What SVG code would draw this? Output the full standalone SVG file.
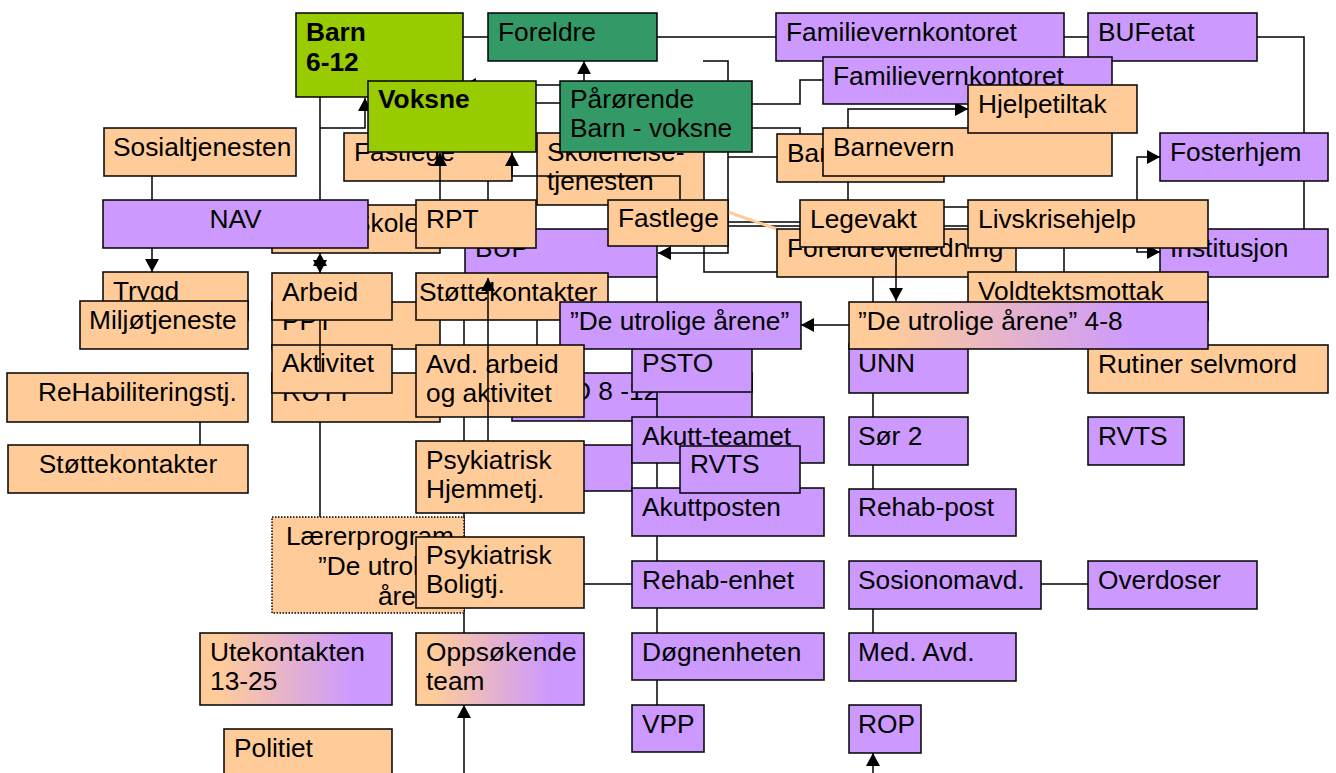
<svg xmlns="http://www.w3.org/2000/svg" width="1336" height="773" viewBox="0 0 1336 773">
<defs>
<style>
.n rect{stroke:#000;stroke-width:1.5}
.pe{fill:#FFCC99}.pu{fill:#CC99FF}.lg{fill:#99CC00}.dg{fill:#339966}.gr{fill:url(#fade)}
.dot{stroke-dasharray:1.5 1.5}
text{font-family:"Liberation Sans",Arial,Helvetica,sans-serif;font-size:26.3px;fill:#000}
.b{font-weight:bold}
.e{text-anchor:end}.m{text-anchor:middle}
.c path{fill:none;stroke:#000;stroke-width:1.5}
.c .a{marker-end:url(#ah)}
.c .aa{marker-start:url(#ahs);marker-end:url(#ah)}
.c .pl{stroke:#FFCC99;stroke-width:3}
</style>
<marker id="ah" markerUnits="userSpaceOnUse" markerWidth="14" markerHeight="14" refX="13" refY="7" orient="auto"><path d="M0,0 L13,7 L0,14 z" fill="#000"/></marker>
<marker id="ahs" markerUnits="userSpaceOnUse" markerWidth="14" markerHeight="14" refX="13" refY="7" orient="auto-start-reverse"><path d="M0,0 L13,7 L0,14 z" fill="#000"/></marker>
<linearGradient id="fade" x1="0" y1="0" x2="1" y2="0">
<stop offset="0.1" stop-color="#FFCC99"/>
<stop offset="0.8" stop-color="#CC99FF"/>
</linearGradient>
</defs>
<rect width="1336" height="773" fill="#fff"/>

<!-- links drawn beneath the boxes -->
<g id="connectors" class="c">
<path d="M463,37 H488"/>
<path d="M657,37 H776"/>
<path d="M1064,37 H1088"/>
<path d="M1257,37 H1304 V229"/>
<path class="a" d="M584,81 V61"/>
<path class="a" d="M560,85 H463"/>
<path d="M536,103 H560"/>
<path d="M320,97 V200"/>
<path class="a" d="M320,128 H365 V98"/>
<path d="M152,176 V200"/>
<path class="a" d="M152,248 V272"/>
<path class="aa" d="M320,253 V273"/>
<path d="M488,181 V200"/>
<path d="M703,61 H728 V81"/>
<path class="a" d="M728,152 V253 H658"/>
<path d="M752,104 H800 V80 H823"/>
<path d="M752,128 H800 V134"/>
<path d="M728,157 H777"/>
<path d="M728,222 H800"/>
<path d="M728,226 H800"/>
<path class="pl" d="M728,212 L777,229"/>
<path d="M704,246 V272 H873 V302"/>
<path class="a" d="M848,128 V109 H968"/>
<path d="M848,176 V200"/>
<path d="M944,207 H968"/>
<path d="M944,226 H968"/>
<path class="a" d="M1137,200 V157 H1160"/>
<path class="a" d="M1137,248 V252 H1160"/>
<path d="M1064,248 V272"/>
<path class="a" d="M849,325 H801"/>
<path d="M657,277 V705"/>
<path d="M464,277 V633"/>
<path d="M537,277 V373"/>
<path d="M320,422 V517"/>
<path d="M200,422 V445"/>
<path d="M584,584 H632"/>
<path d="M873,393 V489"/>
<path d="M873,608 V633"/>
<path d="M1041,584 H1088"/>
<path class="a" d="M464,773 V705"/>
<path class="a" d="M873,773 V753"/>
</g>

<g id="barn" class="n"><rect class="lg" x="296" y="13" width="167" height="84"/><text class="b" x="306" y="41">Barn</text><text class="b" x="306" y="71">6-12</text></g>
<g id="fastlege-a" class="n"><rect class="pe" x="344" y="133" width="168" height="48"/><text x="354" y="161">Fastlege</text></g>
<g id="voksne" class="n"><rect class="lg" x="368" y="81" width="168" height="71"/><text class="b" x="378" y="108">Voksne</text></g>
<g id="foreldre" class="n"><rect class="dg" x="488" y="13" width="169" height="48"/><text x="498" y="41">Foreldre</text></g>
<g id="skolehelse" class="n"><rect class="pe" x="537" y="133" width="167" height="72"/><text x="547" y="161">Skolehelse-</text><text x="547" y="190">tjenesten</text></g>
<g id="parorende" class="n"><rect class="dg" x="560" y="81" width="192" height="71"/><text x="570" y="108">Pårørende</text><text x="570" y="137">Barn - voksne</text></g>
<g id="familievern-1" class="n"><rect class="pu" x="776" y="13" width="288" height="48"/><text x="786" y="41">Familievernkontoret</text></g>
<g id="bufetat" class="n"><rect class="pu" x="1088" y="13" width="169" height="48"/><text x="1098" y="41">BUFetat</text></g>
<g id="familievern-2" class="n"><rect class="pu" x="823" y="57" width="289" height="47"/><text x="833" y="85">Familievernkontoret</text></g>
<g id="barnehage" class="n"><rect class="pe" x="777" y="134" width="167" height="48"/><text x="787" y="162">Barnehage</text></g>
<g id="barnevern" class="n"><rect class="pe" x="823" y="128" width="289" height="48"/><text x="833" y="156">Barnevern</text></g>
<g id="hjelpetiltak" class="n"><rect class="pe" x="968" y="85" width="169" height="48"/><text x="978" y="113">Hjelpetiltak</text></g>
<g id="fosterhjem" class="n"><rect class="pu" x="1160" y="133" width="168" height="48"/><text x="1170" y="161">Fosterhjem</text></g>
<g id="sosialtjenesten" class="n"><rect class="pe" x="104" y="128" width="192" height="48"/><text x="113" y="156">Sosialtjenesten</text></g>
<g id="skole" class="n"><rect class="pe" x="272" y="205" width="168" height="48"/><text x="353" y="232">Skole</text></g>
<g id="nav" class="n"><rect class="pu" x="103" y="200" width="265" height="48"/><text class="m" x="235.5" y="228">NAV</text></g>
<g id="bup" class="n"><rect class="pu" x="465" y="229" width="192" height="48"/><text x="475" y="257">BUP</text></g>
<g id="rpt" class="n"><rect class="pe" x="416" y="200" width="120" height="48"/><text x="426" y="228">RPT</text></g>
<g id="fastlege-b" class="n"><rect class="pe" x="608" y="200" width="120" height="46"/><text x="618" y="227">Fastlege</text></g>
<g id="foreldreveiledning" class="n"><rect class="pe" x="777" y="229" width="239" height="48"/><text x="787" y="257">Foreldreveiledning</text></g>
<g id="institusjon" class="n"><rect class="pu" x="1160" y="229" width="168" height="48"/><text x="1170" y="257">Institusjon</text></g>
<g id="legevakt" class="n"><rect class="pe" x="800" y="200" width="144" height="47"/><text x="810" y="228">Legevakt</text></g>
<g id="livskrisehjelp" class="n"><rect class="pe" x="968" y="200" width="240" height="48"/><text x="978" y="228">Livskrisehjelp</text></g>
<g id="voldtektsmottak" class="n"><rect class="pe" x="968" y="272" width="240" height="48"/><text x="978" y="300">Voldtektsmottak</text></g>
<g id="trygd" class="n"><rect class="pe" x="103" y="272" width="145" height="48"/><text x="113" y="300">Trygd</text></g>
<g id="miljotjeneste" class="n"><rect class="pe" x="80" y="301" width="168" height="48"/><text x="89" y="329">Miljøtjeneste</text></g>
<g id="ppt" class="n"><rect class="pe" x="272" y="302" width="168" height="47"/><text x="282" y="330">PPT</text></g>
<g id="rutt" class="n"><rect class="pe" x="272" y="373" width="168" height="49"/><text x="282" y="401">RUTT</text></g>
<g id="arbeid" class="n"><rect class="pe" x="272" y="273" width="120" height="47"/><text x="282" y="301">Arbeid</text></g>
<g id="aktivitet" class="n"><rect class="pe" x="272" y="345" width="120" height="48"/><text x="282" y="372">Aktivitet</text></g>
<g id="stottekontakter-b" class="n"><rect class="pe" x="416" y="273" width="192" height="47"/><text x="419" y="301">Støttekontakter</text></g>
<g id="d-8-12" class="n"><rect class="pu" x="512" y="373" width="240" height="48"/><text x="572" y="400">D 8 -12</text></g>
<g id="psto" class="n"><rect class="pu" x="632" y="344" width="120" height="48"/><text x="642" y="372">PSTO</text></g>
<g id="utrolige" class="n"><rect class="pu" x="560" y="302" width="241" height="47"/><text x="570" y="330">”De utrolige årene”</text></g>
<g id="unn" class="n"><rect class="pu" x="849" y="344" width="119" height="49"/><text x="858" y="372">UNN</text></g>
<g id="rutiner" class="n"><rect class="pe" x="1088" y="345" width="240" height="48"/><text x="1098" y="373">Rutiner selvmord</text></g>
<g id="utrolige-4-8" class="n"><rect class="gr" x="849" y="302" width="359" height="47"/><text x="858" y="330">”De utrolige årene” 4-8</text></g>
<g id="avd-arbeid" class="n"><rect class="pe" x="416" y="345" width="168" height="72"/><text x="426" y="373">Avd. arbeid</text><text x="426" y="402">og aktivitet</text></g>
<g id="rehabilitering" class="n"><rect class="pe" x="7" y="373" width="241" height="49"/><text x="38" y="401">ReHabiliteringstj.</text></g>
<g id="stottekontakter-a" class="n"><rect class="pe" x="8" y="445" width="240" height="48"/><text class="m" x="128" y="473">Støttekontakter</text></g>
<g id="purple-back" class="n"><rect class="pu" x="512" y="445" width="120" height="46"/></g>
<g id="akutt-teamet" class="n"><rect class="pu" x="632" y="417" width="192" height="46"/><text x="642" y="445">Akutt-teamet</text></g>
<g id="sor2" class="n"><rect class="pu" x="849" y="417" width="119" height="48"/><text x="858" y="445">Sør 2</text></g>
<g id="rvts-b" class="n"><rect class="pu" x="1088" y="417" width="96" height="48"/><text x="1098" y="445">RVTS</text></g>
<g id="psyk-hjem" class="n"><rect class="pe" x="416" y="441" width="168" height="72"/><text x="426" y="469">Psykiatrisk</text><text x="426" y="498">Hjemmetj.</text></g>
<g id="akuttposten" class="n"><rect class="pu" x="632" y="488" width="192" height="48"/><text x="642" y="516">Akuttposten</text></g>
<g id="rvts-a" class="n"><rect class="pu" x="680" y="446" width="120" height="47"/><text x="690" y="473">RVTS</text></g>
<g id="rehab-post" class="n"><rect class="pu" x="849" y="489" width="167" height="47"/><text x="858" y="516">Rehab-post</text></g>
<g id="laererprogram" class="n"><rect class="pe dot" x="272" y="517" width="192" height="96"/><text class="e" x="454" y="545">Lærerprogram</text><text class="e" x="454" y="575">”De utrolige</text><text class="e" x="454" y="605">årene”</text></g>
<g id="psyk-bolig" class="n"><rect class="pe" x="416" y="537" width="168" height="71"/><text x="426" y="564">Psykiatrisk</text><text x="426" y="593">Boligtj.</text></g>
<g id="rehab-enhet" class="n"><rect class="pu" x="632" y="561" width="192" height="47"/><text x="642" y="589">Rehab-enhet</text></g>
<g id="sosionomavd" class="n"><rect class="pu" x="849" y="561" width="192" height="48"/><text x="858" y="589">Sosionomavd.</text></g>
<g id="overdoser" class="n"><rect class="pu" x="1088" y="561" width="169" height="48"/><text x="1098" y="589">Overdoser</text></g>
<g id="utekontakten" class="n"><rect class="gr" x="200" y="633" width="192" height="72"/><text x="210" y="661">Utekontakten</text><text x="210" y="690">13-25</text></g>
<g id="oppsokende" class="n"><rect class="gr" x="416" y="633" width="168" height="72"/><text x="426" y="661">Oppsøkende</text><text x="426" y="690">team</text></g>
<g id="dognenheten" class="n"><rect class="pu" x="632" y="633" width="192" height="47"/><text x="642" y="661">Døgnenheten</text></g>
<g id="med-avd" class="n"><rect class="pu" x="849" y="633" width="167" height="48"/><text x="858" y="661">Med. Avd.</text></g>
<g id="vpp" class="n"><rect class="pu" x="632" y="705" width="72" height="47"/><text x="642" y="733">VPP</text></g>
<g id="rop" class="n"><rect class="pu" x="849" y="705" width="72" height="48"/><text x="858" y="733">ROP</text></g>
<g id="politiet" class="n"><rect class="pe" x="224" y="729" width="168" height="50"/><text x="234" y="757">Politiet</text></g>

<!-- links that run across boxes -->
<g id="connectors-top" class="c">
<path class="a" d="M440,200 V153"/>
<path class="a" d="M680,200 V176 H512 V153"/>
<path class="a" d="M896,247 V301"/>
<path class="a" d="M488,441 V278"/>
<path d="M320,320 V372"/>
<path d="M657,392 V417"/>
</g>
</svg>
